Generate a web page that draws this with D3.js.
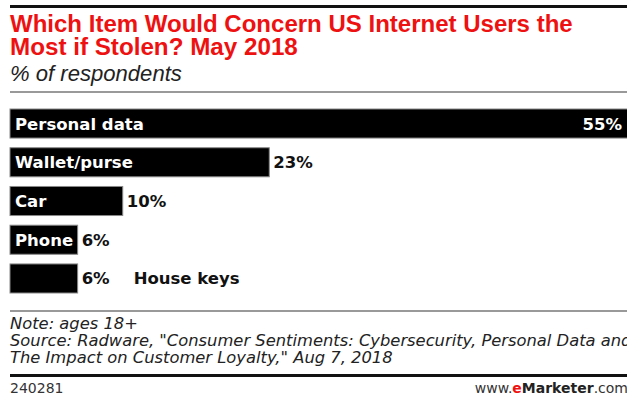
<!DOCTYPE html>
<html><head><meta charset="utf-8">
<script src="https://cdn.jsdelivr.net/npm/d3@7"></script>
<style>body{margin:0;background:#fff;overflow:hidden}</style>
</head><body>
<script>
const categories = ["Personal data", "Wallet/purse", "Car", "Phone", "House keys"];
const values = [55, 23, 10, 6, 6];
const valueLabels = ["55%", "23%", "10%", "6%", "6%"];
const titleLines = ["Which Item Would Concern US Internet Users the", "Most if Stolen? May 2018"];
const subtitle = "% of respondents";
const noteLines = ["Note: ages 18+",
  "Source: Radware, \"Consumer Sentiments: Cybersecurity, Personal Data and",
  "The Impact on Customer Loyalty,\" Aug 7, 2018"];
const chartId = "240281";

const W = 627, H = 397;
const svg = d3.select("body").append("svg").attr("width", W).attr("height", H)
  .style("font-family", "'DejaVu Sans', sans-serif");

function fit(sel, target) {
  const len = sel.node().getComputedTextLength();
  const fs = parseFloat(sel.attr("font-size"));
  const nfs = fs * target / len;
  sel.attr("font-size", nfs);
  return nfs;
}

// top rule
svg.append("rect").attr("x", 10).attr("y", 5).attr("width", W - 10).attr("height", 3).attr("fill", "#111");

// title
titleLines.forEach((t, i) => {
  const s = svg.append("text").attr("x", 10).attr("y", 32 + i * 23)
    .attr("font-size", 20).attr("font-weight", "bold").attr("fill", "#ee1111")
    .style("font-family", "'Liberation Sans', Arial, sans-serif").text(t);
  fit(s, i === 0 ? 563 : 288);
});
const sub = svg.append("text").attr("x", 10).attr("y", 81).attr("font-size", 19)
  .attr("font-style", "italic").attr("fill", "#222")
  .style("font-family", "'Liberation Sans', Arial, sans-serif").text(subtitle);
fit(sub, 172);

svg.append("rect").attr("x", 10).attr("y", 91).attr("width", W - 10).attr("height", 2).attr("fill", "#999");

// scales
const x = d3.scaleLinear().domain([0, 55]).range([10, 630]);
const y = d3.scaleBand().domain(categories).range([109, 293]).paddingInner(0.25).paddingOuter(0);

const g = svg.append("g");
g.selectAll("rect.bar").data(categories).join("rect").attr("class", "bar")
  .attr("x", x(0)).attr("y", d => y(d))
  .attr("width", (d, i) => x(values[i]) - x(0)).attr("height", y.bandwidth())
  .attr("fill", "#000").attr("stroke", "#888").attr("stroke-width", 1);

const lblFont = 16.5;
categories.forEach((c, i) => {
  const barEnd = x(values[i]);
  const cy = y(c) + y.bandwidth() / 2 + 6;
  const t = g.append("text").attr("x", 15).attr("y", cy).attr("font-size", lblFont)
    .attr("font-weight", "bold").attr("fill", "#fff").text(c);
  const tw = t.node().getComputedTextLength();
  const inside = tw + 8 <= barEnd - x(0);
  const v = g.append("text").attr("font-size", lblFont).attr("font-weight", "bold").attr("y", cy).text(valueLabels[i]);
  if (barEnd > W - 10) {
    v.attr("x", W - 5).attr("text-anchor", "end").attr("fill", "#fff");
  } else {
    v.attr("x", barEnd + 4).attr("fill", "#111");
  }
  if (!inside) {
    t.attr("x", barEnd + 56).attr("fill", "#111");
  }
});

// bottom
svg.append("rect").attr("x", 10).attr("y", 310).attr("width", W - 10).attr("height", 2).attr("fill", "#999");
const noteY = [329, 346, 363];
const notes = noteLines.map((t, i) => svg.append("text").attr("x", 10).attr("y", noteY[i]).attr("font-size", 15)
    .attr("font-style", "italic").attr("fill", "#222").text(t));
const nfs = fit(notes[1], 622);
notes.forEach(n => n.attr("font-size", nfs));
svg.append("rect").attr("x", 10).attr("y", 374).attr("width", W - 10).attr("height", 3).attr("fill", "#111");
svg.append("text").attr("x", 10).attr("y", 393).attr("font-size", 14).attr("fill", "#333").text(chartId);
const brand = svg.append("text").attr("x", W + 1).attr("y", 393).attr("text-anchor", "end")
  .attr("font-size", 14).attr("fill", "#333");
brand.append("tspan").text("www.");
brand.append("tspan").attr("fill", "#ee1111").attr("font-weight", "bold").text("e");
brand.append("tspan").attr("font-weight", "bold").attr("fill", "#222").text("Marketer");
brand.append("tspan").text(".com");
</script>
</body></html>
